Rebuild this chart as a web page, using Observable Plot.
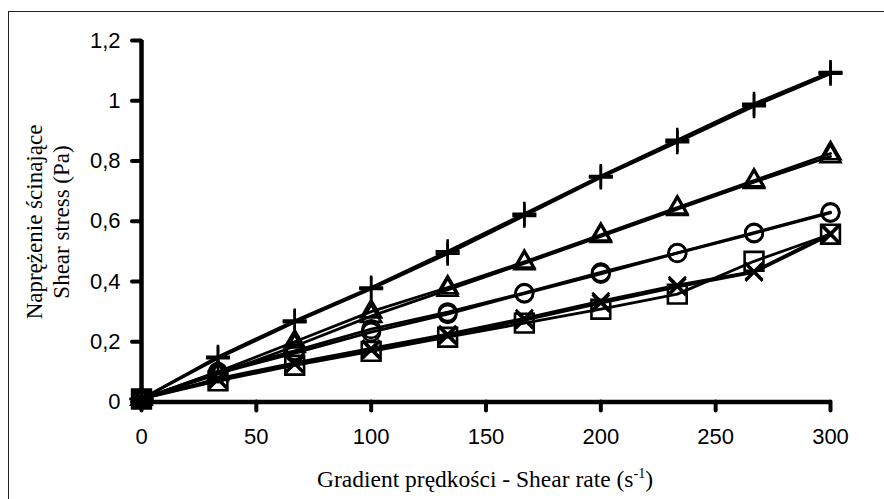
<!DOCTYPE html>
<html>
<head>
<meta charset="utf-8">
<script src="https://cdn.jsdelivr.net/npm/d3@7"></script>
<script src="https://cdn.jsdelivr.net/npm/@observablehq/plot@0.6"></script>
<style>
  html, body { margin: 0; padding: 0; background: #fff; }
  #wrap { position: relative; width: 884px; height: 499px; overflow: hidden; }
  #frame { position: absolute; left: 8px; top: 11px; width: 900px; height: 600px; border: 1px solid #222; box-sizing: border-box; }
  #chart { position: absolute; left: 0; top: 0; }
</style>
</head>
<body>
<div id="wrap"><div id="frame"></div><div id="chart"></div></div>
<script>
// Shear rate (s^-1)
const shearRate = [0, 33.3, 66.7, 100, 133.3, 166.7, 200, 233.3, 266.7, 300];
// Shear stress (Pa), two repeated runs for each sample
const plusA  = [0.01, 0.150, 0.270, 0.380, 0.500, 0.625, 0.750, 0.870, 0.990, 1.095];
const plusB  = [0.01, 0.145, 0.265, 0.375, 0.492, 0.618, 0.745, 0.862, 0.982, 1.090];
const triA   = [0.01, 0.100, 0.200, 0.300, 0.380, 0.465, 0.555, 0.645, 0.735, 0.825];
const triB   = [0.01, 0.092, 0.185, 0.285, 0.372, 0.460, 0.550, 0.640, 0.730, 0.815];
const circA  = [0.01, 0.100, 0.170, 0.242, 0.298, 0.362, 0.430, 0.495, 0.562, 0.630];
const circB  = [0.01, 0.095, 0.162, 0.232, 0.292, 0.360, 0.425, 0.494, 0.560, 0.628];
const sqA    = [0.01, 0.070, 0.122, 0.168, 0.215, 0.262, 0.308, 0.358, 0.467, 0.557];
const timesA = [0.01, 0.078, 0.130, 0.178, 0.225, 0.278, 0.335, 0.388, 0.434, 0.560];
const timesB = [0.01, 0.074, 0.126, 0.172, 0.220, 0.272, 0.328, 0.382, 0.430, 0.555];

const xTicks = [0, 50, 100, 150, 200, 250, 300];
const yTicks = [0, 0.2, 0.4, 0.6, 0.8, 1, 1.2];

const series = [
  {name: "plusA", sym: "plus", r: 7.8, ys: plusA},
  {name: "plusB", sym: "plus", r: 7.8, ys: plusB},
  {name: "triA", sym: "triangle", r: 7.4, ys: triA},
  {name: "triB", sym: "triangle", r: 7.4, ys: triB},
  {name: "circA", sym: "circle", r: 8.8, ys: circA},
  {name: "circB", sym: "circle", r: 8.8, ys: circB},
  {name: "sqA", sym: "square", r: 10.6, ys: sqA},
  {name: "timesA", sym: "times", r: 7.8, ys: timesA},
  {name: "timesB", sym: "times", r: 7.8, ys: timesB}
];
const rows = series.flatMap(s => shearRate.map((x, i) => ({x, y: s.ys[i], name: s.name})));

const marks = [
  Plot.line(rows, {x: "x", y: "y", z: "name", stroke: "black", strokeWidth: 2.8}),
];
for (const s of series) {
  marks.push(Plot.dot(shearRate.map((x, i) => ({x, y: s.ys[i]})), {
    x: "x", y: "y", symbol: () => s.sym, r: s.r, stroke: "black", strokeWidth: 2.6, fill: "none"
  }));
}

const plot = Plot.plot({
  width: 884,
  height: 499,
  marginLeft: 141,
  marginRight: 54,
  marginTop: 40,
  marginBottom: 97.5,
  style: {fontFamily: "'Liberation Sans', Arial, sans-serif", color: "black", background: "transparent"},
  x: {domain: [0, 300]},
  y: {domain: [0, 1.2]},
  symbol: {type: "identity"},
  marks: [
    Plot.axisX({ticks: xTicks, tickSize: 9, tickPadding: 17.5, strokeWidth: 4, strokeLinecap: "round", fontSize: 22, label: null, tickFormat: d => String(d)}),
    Plot.axisY({ticks: yTicks, tickSize: 9, tickPadding: 12, strokeWidth: 4, strokeLinecap: "round", fontSize: 22, label: null, tickFormat: d => String(d).replace(".", ",")}),
    Plot.ruleX([0], {stroke: "black", strokeWidth: 4.5}),
    Plot.ruleY([0], {stroke: "black", strokeWidth: 4.5}),
    ...marks
  ]
});
document.getElementById("chart").appendChild(plot);

// Axis titles
const svg = d3.select(plot);
const serif = "'Liberation Serif', 'Times New Roman', serif";
const xt = svg.append("text")
  .attr("x", 485).attr("y", 487)
  .attr("text-anchor", "middle")
  .style("font-family", serif).style("font-size", "23.5px").attr("fill", "black");
xt.append("tspan").text("Gradient prędkości - Shear rate (s");
xt.append("tspan").attr("dy", -9).style("font-size", "14px").text("-1");
xt.append("tspan").attr("dy", 9).text(")");

const yt = svg.append("text")
  .attr("transform", "translate(0,222) rotate(-90)")
  .attr("text-anchor", "middle")
  .style("font-family", serif).style("font-size", "23px").attr("fill", "black");
yt.append("tspan").attr("x", 0).attr("y", 42).text("Naprężenie ścinające");
yt.append("tspan").attr("x", 0).attr("y", 69).text("Shear stress (Pa)");
</script>
</body>
</html>
